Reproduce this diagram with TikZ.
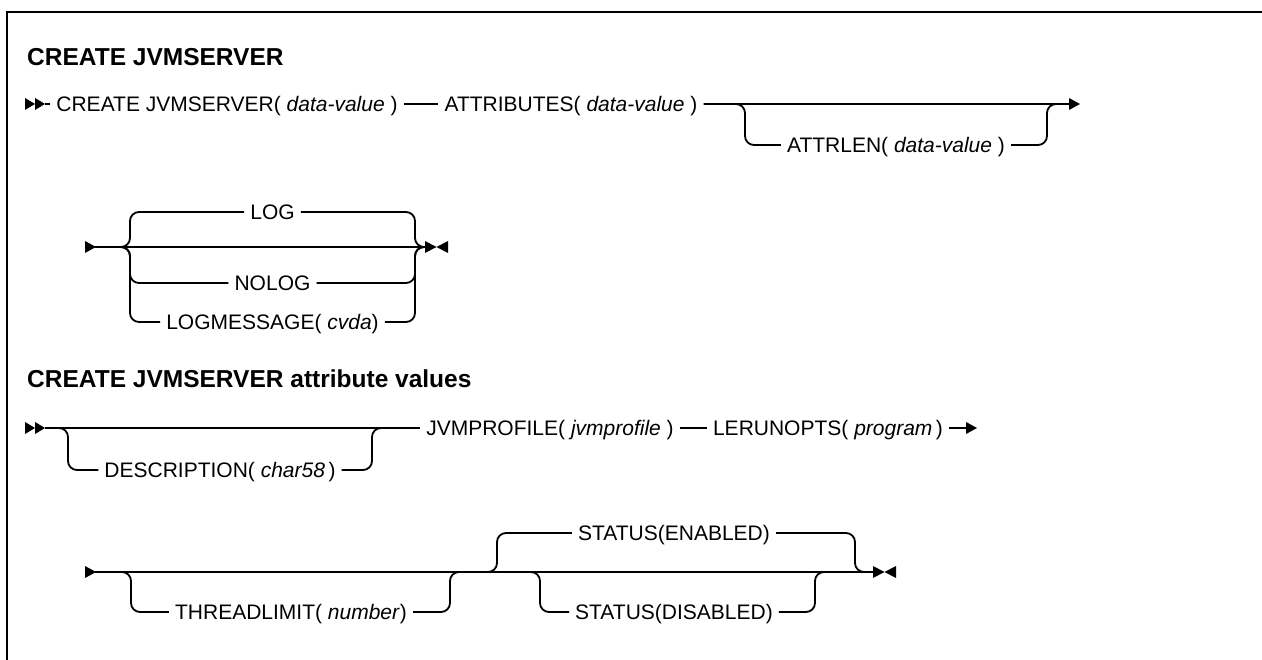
\documentclass[tikz,border=0pt]{standalone}
\usepackage{fontspec}
\setmainfont{Liberation Sans}
\begin{document}
\tikzset{
  rr/.style={line width=1.8pt},
  rrc/.style={line width=1.8pt, rounded corners=9pt},
  lbl/.style={font=\fontsize{21}{24}\selectfont, inner xsep=6pt, inner ysep=0pt, text height=15pt, text depth=0pt},
  ttl/.style={font=\fontsize{24.5}{28}\selectfont\bfseries, anchor=base west, inner sep=0pt},
  frame/.style={line width=2.6pt},
}
\begin{tikzpicture}[x=1pt,y=-1pt]
\useasboundingbox (0,0) rectangle (1262,660);
% frame (top and left edges)
\draw[frame] (1263,12) -- (7,12) -- (7,661);

% titles
\node[ttl] (t1) at (27,66) {CREATE JVMSERVER};
\node[ttl] (t2) at (27,388) {CREATE JVMSERVER attribute values};

% ---------- Row 1 ----------
\fill (25,98) -- (35,104) -- (25,110) -- cycle;
\fill (35,98) -- (45,104) -- (35,110) -- cycle;
\coordinate (r1a) at (45,104);
\node[lbl] (cj) at (227,104) {CREATE JVMSERVER( \textit{data-value} )};
\node[lbl] (at) at (571,104) {ATTRIBUTES( \textit{data-value} )};
\node[lbl] (al) at (896,145) {ATTRLEN( \textit{data-value} )};
\coordinate (b1l) at (745,104);
\coordinate (b1r) at (1047,104);
\coordinate (r1m) at (1060,104);
\coordinate (r1e) at (1070,104);
\draw[rr] (r1a) -- (cj.west);
\draw[rr] (cj.east) -- (at.west);
\draw[rr] (at.east) -- (r1e);
\draw[rrc] (at.east) -- (b1l) -- (b1l |- al) -- (al.west);
\draw[rrc] (al.east) -- (b1r |- al) -- (b1r) -- (r1m);
\fill (1069,98) -- (1080,104) -- (1069,110) -- cycle;

% ---------- Row 2 ----------
\fill (85,241) -- (96,247) -- (85,253) -- cycle;
\coordinate (r2a) at (95,247);
\coordinate (g2l) at (130,247);
\coordinate (g2r) at (415,247);
\coordinate (r2e) at (426,247);
\node[lbl] (log) at (272.5,212) {LOG};
\node[lbl] (nolog) at (272.5,283) {NOLOG};
\node[lbl] (logm) at (272.5,322) {LOGMESSAGE( \textit{cvda})};
\draw[rr] (r2a) -- (r2e);
\draw[rrc] (r2a) -- (g2l) -- (g2l |- log) -- (log.west);
\draw[rrc] (log.east) -- (g2r |- log) -- (g2r) -- (r2e);
\draw[rrc] (r2a) -- (g2l) -- (g2l |- nolog) -- (nolog.west);
\draw[rrc] (nolog.east) -- (g2r |- nolog) -- (g2r) -- (r2e);
\draw[rrc] (r2a) -- (g2l) -- (g2l |- logm) -- (logm.west);
\draw[rrc] (logm.east) -- (g2r |- logm) -- (g2r) -- (r2e);
\fill (425,241) -- (436.5,247) -- (425,253) -- cycle;
\fill (448,241) -- (436.5,247) -- (448,253) -- cycle;

% ---------- Row 3 ----------
\fill (25,422) -- (35,428) -- (25,434) -- cycle;
\fill (35,422) -- (45,428) -- (35,434) -- cycle;
\coordinate (r3a) at (45,428);
\coordinate (g3l) at (68,428);
\coordinate (g3r) at (372,428);
\coordinate (g3x) at (385,428);
\node[lbl] (desc) at (220,470) {DESCRIPTION( \textit{char58}\,)};
\node[lbl] (jp) at (550,428) {JVMPROFILE( \textit{jvmprofile} )};
\node[lbl] (le) at (828,428) {LERUNOPTS( \textit{program}\,)};
\coordinate (r3e) at (967,428);
\draw[rr] (r3a) -- (jp.west);
\draw[rrc] (r3a) -- (g3l) -- (g3l |- desc) -- (desc.west);
\draw[rrc] (desc.east) -- (g3r |- desc) -- (g3r) -- (g3x);
\draw[rr] (jp.east) -- (le.west);
\draw[rr] (le.east) -- (r3e);
\fill (966,422) -- (977,428) -- (966,434) -- cycle;

% ---------- Row 4 ----------
\fill (85,566) -- (96,572) -- (85,578) -- cycle;
\coordinate (r4a) at (95,572);
\coordinate (g4l) at (131,572);
\coordinate (g4r) at (450,572);
\coordinate (g5l) at (497,572);
\coordinate (g5r) at (855,572);
\coordinate (g6l) at (540,572);
\coordinate (g6r) at (815,572);
\coordinate (r4e) at (874,572);
\node[lbl] (thr) at (291,612) {THREADLIMIT( \textit{number})};
\node[lbl] (en) at (674,533) {STATUS(ENABLED)};
\node[lbl] (dis) at (674,612) {STATUS(DISABLED)};
\draw[rr] (r4a) -- (r4e);
\draw[rrc] (r4a) -- (g4l) -- (g4l |- thr) -- (thr.west);
\draw[rrc] (thr.east) -- (g4r |- thr) -- (g4r) -- (g5l);
\draw[rrc] (g4r) -- (g5l) -- (g5l |- en) -- (en.west);
\draw[rrc] (en.east) -- (g5r |- en) -- (g5r) -- (r4e);
\draw[rrc] (g5l) -- (g6l) -- (g6l |- dis) -- (dis.west);
\draw[rrc] (dis.east) -- (g6r |- dis) -- (g6r) -- (g5r);
\fill (873,566) -- (884.5,572) -- (873,578) -- cycle;
\fill (896,566) -- (884.5,572) -- (896,578) -- cycle;
\end{tikzpicture}
\end{document}
